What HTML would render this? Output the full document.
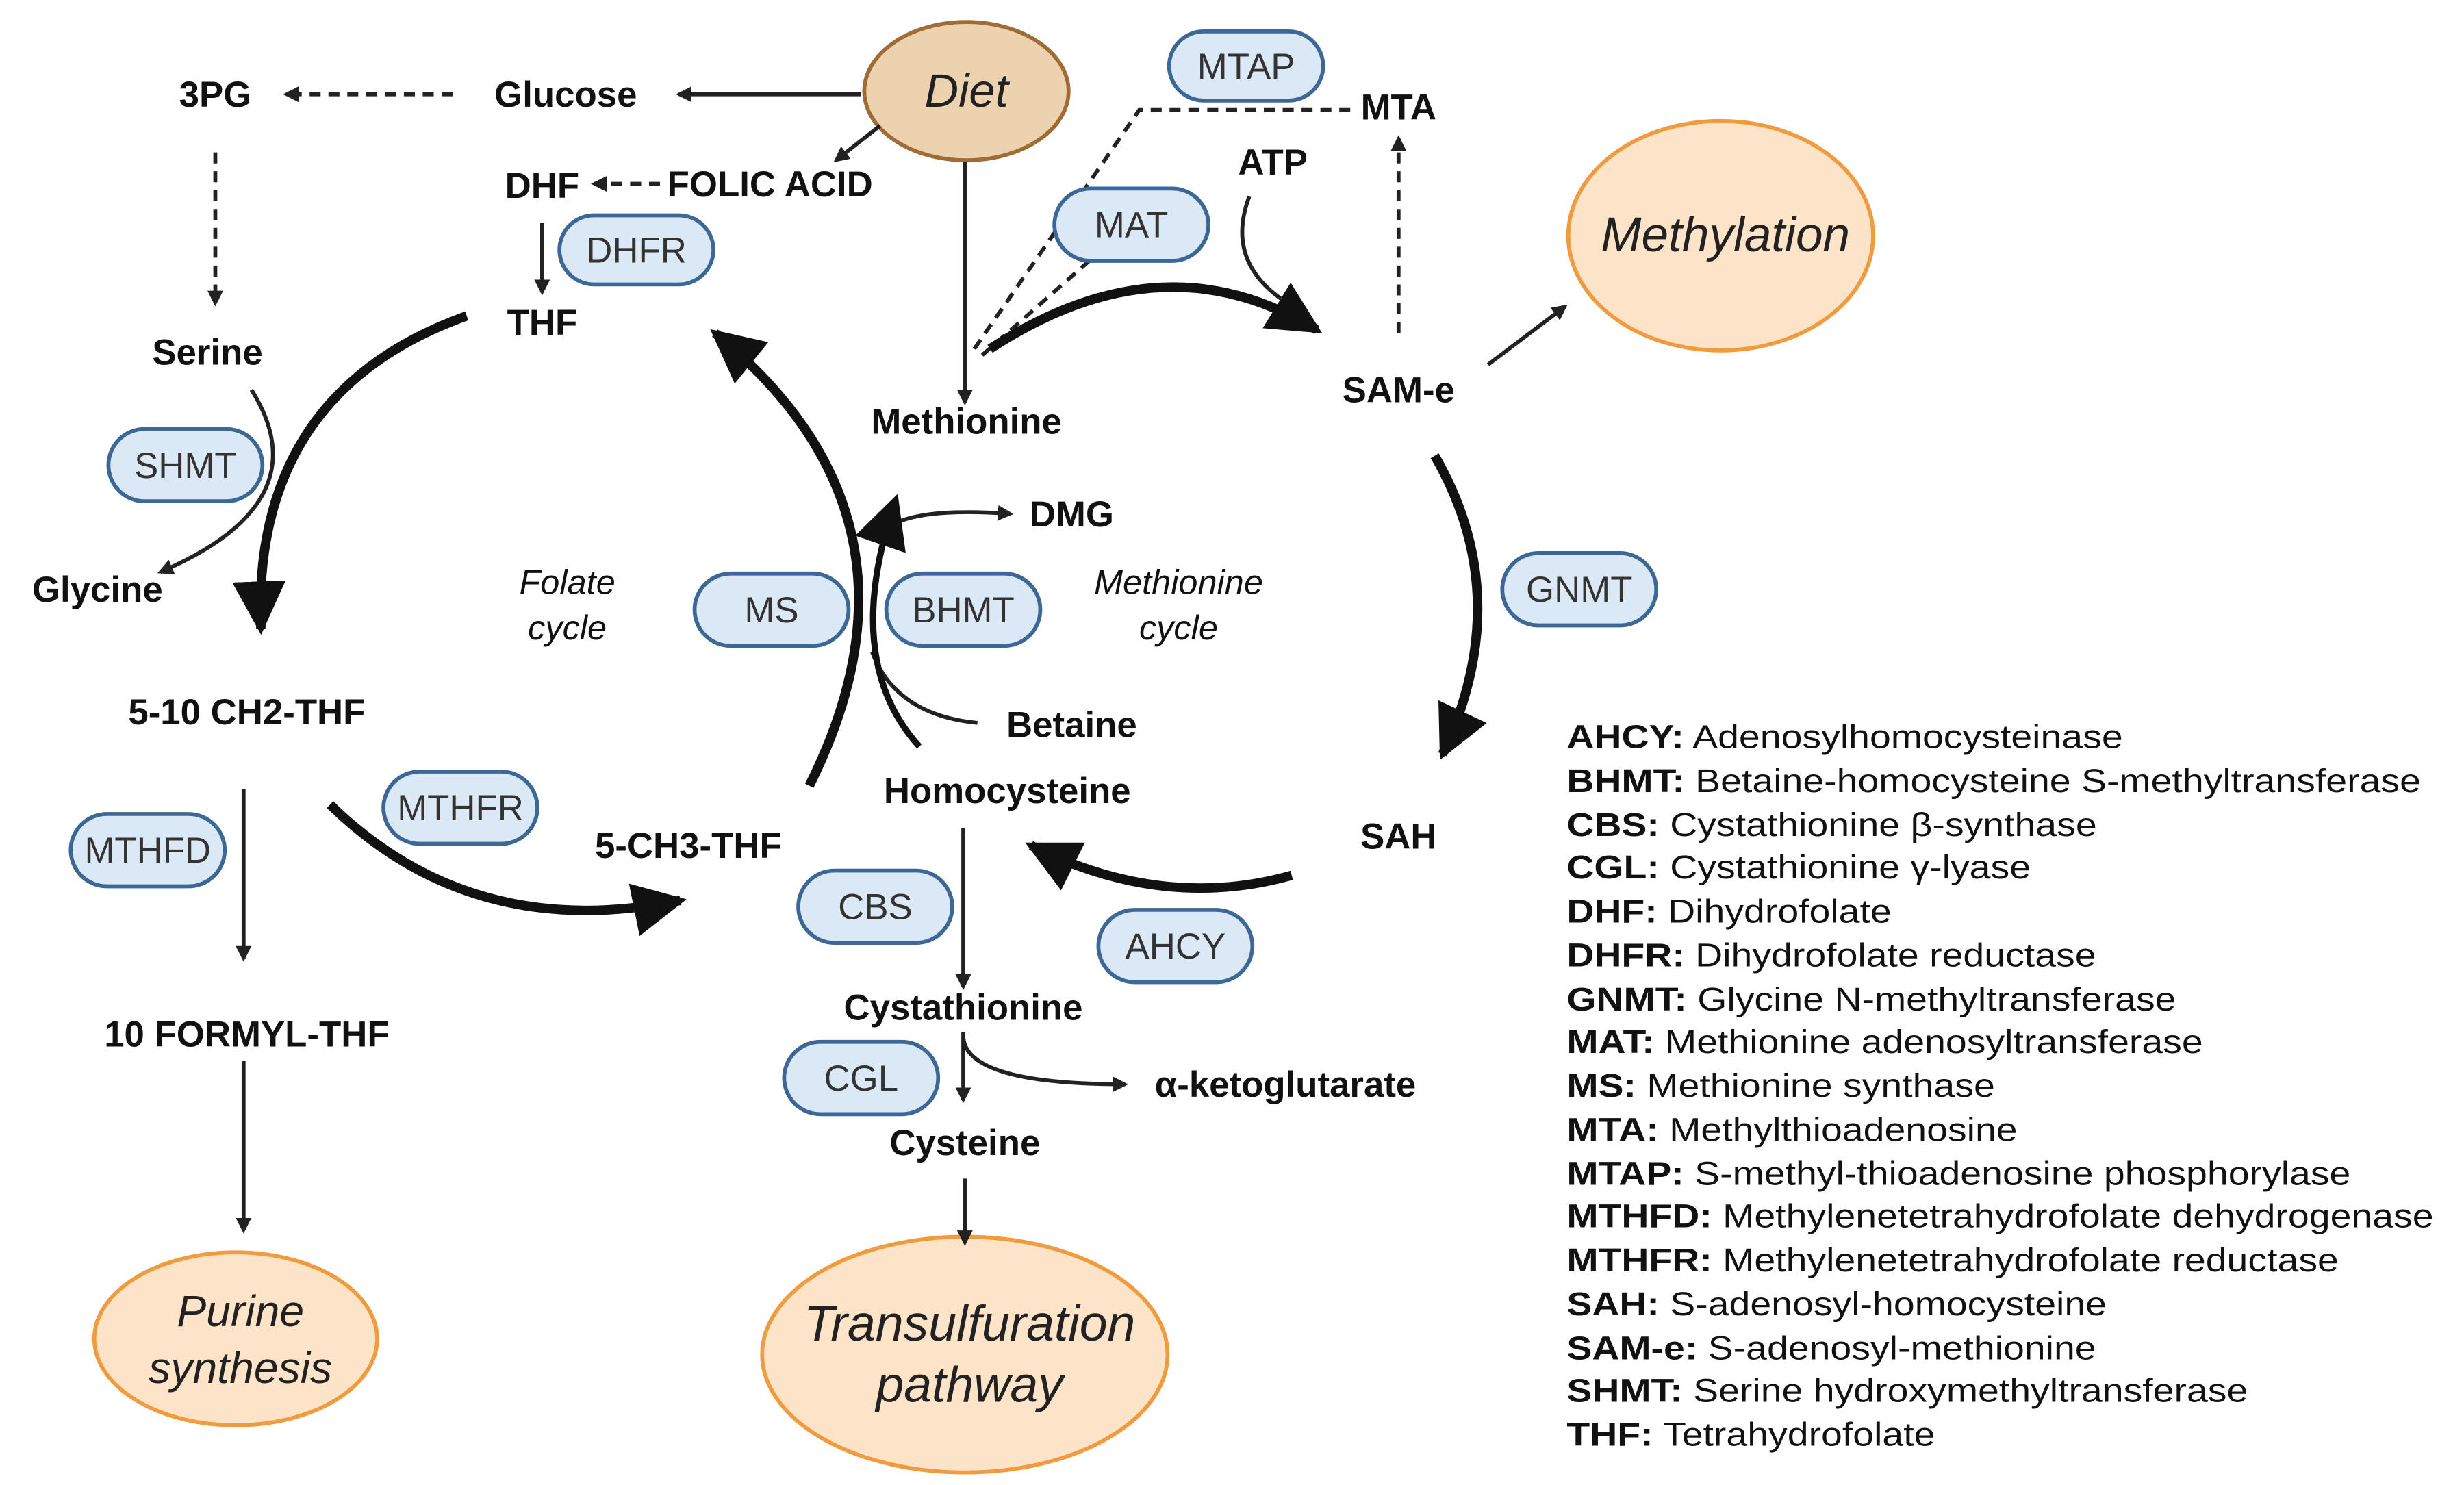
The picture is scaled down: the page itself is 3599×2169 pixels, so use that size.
<!DOCTYPE html>
<html><head><meta charset="utf-8"><style>
html,body{margin:0;padding:0;background:#fff;}
svg{display:block;}
text{font-family:"Liberation Sans",sans-serif;fill:#111;}
.b{font-weight:bold;font-size:23px;}
.p{font-size:23px;fill:#333;}
.i{font-style:italic;font-size:22px;fill:#333;}
.pill{fill:#dbe8f6;stroke:#3d6896;stroke-width:2.5;}
.ln{stroke:#222;stroke-width:2.5;fill:none;}
.dl{stroke:#222;stroke-width:2.5;fill:none;stroke-dasharray:7,5;}
.tk{stroke:#111;stroke-width:6;fill:none;}
.lg{font-size:21px;fill:#222;}
</style></head><body>
<svg width="3599" height="2169" viewBox="0 0 1568 945" xmlns="http://www.w3.org/2000/svg">
<defs>
<marker id="a" markerWidth="10" markerHeight="10" refX="8" refY="5" orient="auto" markerUnits="userSpaceOnUse"><path d="M0,0 L10,5 L0,10 z" fill="#222"/></marker>
<marker id="A" markerWidth="40" markerHeight="34" refX="30" refY="17" orient="auto" markerUnits="userSpaceOnUse"><path d="M0,0 L34,17 L0,34 z" fill="#111"/></marker>
</defs>
<rect width="1568" height="945" fill="#fff"/>
<ellipse cx="615" cy="58" rx="65" ry="44" fill="#ecd2ae" stroke="#a06c35" stroke-width="2.5"/>
<text x="615" y="68" text-anchor="middle" class="i" style="font-size:30px;fill:#222">Diet</text>
<ellipse cx="1095" cy="150" rx="97" ry="73" fill="#fde4c9" stroke="#ef9b3e" stroke-width="2.5"/>
<text x="1098" y="160" text-anchor="middle" class="i" style="font-size:31px;fill:#222">Methylation</text>
<ellipse cx="150" cy="852" rx="90" ry="55" fill="#fde4c9" stroke="#ef9b3e" stroke-width="2.5"/>
<text x="153" y="844" text-anchor="middle" class="i" style="font-size:28px;fill:#222">Purine</text>
<text x="153" y="880" text-anchor="middle" class="i" style="font-size:28px;fill:#222">synthesis</text>
<ellipse cx="614" cy="862" rx="129" ry="75" fill="#fde4c9" stroke="#ef9b3e" stroke-width="2.5"/>
<text x="617" y="853" text-anchor="middle" class="i" style="font-size:32px;fill:#222">Transulfuration</text>
<text x="617" y="892" text-anchor="middle" class="i" style="font-size:32px;fill:#222">pathway</text>
<path class="ln" d="M548,60 L432,60" marker-end="url(#a)"/>
<path class="dl" d="M288,60 L182,60" marker-end="url(#a)"/>
<path class="dl" d="M137,97 L137,193" marker-end="url(#a)"/>
<path class="ln" d="M560,80 L532,102" marker-end="url(#a)"/>
<path class="dl" d="M420,117 L378,117" marker-end="url(#a)"/>
<path class="ln" d="M345,142 L345,186" marker-end="url(#a)"/>
<path class="ln" d="M614,103 L614,256" marker-end="url(#a)"/>
<path class="dl" d="M620,222 L725,70 L860,70"/>
<path class="dl" d="M625,226 L700,160"/>
<path class="dl" d="M890,212 L890,88" marker-end="url(#a)"/>
<path class="ln" d="M795,125 Q780,165 815,190"/>
<path class="ln" d="M947,232 L996,195" marker-end="url(#a)"/>
<path class="ln" d="M160,248 Q205,320 102,364" marker-end="url(#a)"/>
<path class="ln" d="M155,502 L155,610" marker-end="url(#a)"/>
<path class="ln" d="M155,675 L155,783" marker-end="url(#a)"/>
<path class="ln" d="M613,527 L613,628" marker-end="url(#a)"/>
<path class="ln" d="M613,657 L613,700" marker-end="url(#a)"/>
<path class="ln" d="M613,660 Q615,690 716,690" marker-end="url(#a)"/>
<path class="ln" d="M614,750 L614,791" marker-end="url(#a)"/>
<path class="ln" d="M560,340 Q575,322 643,327" marker-end="url(#a)"/>
<path class="ln" d="M622,460 Q570,455 555,415"/>
<path class="tk" d="M630,222 Q740,150 838,210" marker-end="url(#A)"/>
<path class="tk" d="M913,290 Q965,380 918,480" marker-end="url(#A)"/>
<path class="tk" d="M822,557 Q740,580 656,538" marker-end="url(#A)"/>
<path class="tk" d="M515,500 Q600,330 455,212" marker-end="url(#A)"/>
<path class="tk" d="M297,201 Q160,250 166,400" marker-end="url(#A)"/>
<path class="tk" d="M210,512 Q300,600 433,573" marker-end="url(#A)"/>
<path class="tk" d="M585,475 Q535,420 570,318" marker-end="url(#A)" style="stroke-width:4"/>
<g>
<rect class="pill" x="744" y="20" width="98" height="44" rx="22"/><text x="793" y="50" text-anchor="middle" class="p">MTAP</text>
<rect class="pill" x="671" y="120" width="98" height="46" rx="23"/><text x="720" y="151" text-anchor="middle" class="p">MAT</text>
<rect class="pill" x="356" y="137" width="98" height="44" rx="22"/><text x="405" y="167" text-anchor="middle" class="p">DHFR</text>
<rect class="pill" x="69" y="273" width="98" height="46" rx="23"/><text x="118" y="304" text-anchor="middle" class="p">SHMT</text>
<rect class="pill" x="442" y="365" width="98" height="46" rx="23"/><text x="491" y="396" text-anchor="middle" class="p">MS</text>
<rect class="pill" x="564" y="365" width="98" height="46" rx="23"/><text x="613" y="396" text-anchor="middle" class="p">BHMT</text>
<rect class="pill" x="956" y="352" width="98" height="46" rx="23"/><text x="1005" y="383" text-anchor="middle" class="p">GNMT</text>
<rect class="pill" x="244" y="491" width="98" height="46" rx="23"/><text x="293" y="522" text-anchor="middle" class="p">MTHFR</text>
<rect class="pill" x="45" y="518" width="98" height="46" rx="23"/><text x="94" y="549" text-anchor="middle" class="p">MTHFD</text>
<rect class="pill" x="508" y="554" width="98" height="46" rx="23"/><text x="557" y="585" text-anchor="middle" class="p">CBS</text>
<rect class="pill" x="699" y="579" width="98" height="46" rx="23"/><text x="748" y="610" text-anchor="middle" class="p">AHCY</text>
<rect class="pill" x="499" y="663" width="98" height="46" rx="23"/><text x="548" y="694" text-anchor="middle" class="p">CGL</text>
</g>
<g class="b" text-anchor="middle">
<text x="137" y="68">3PG</text>
<text x="360" y="68">Glucose</text>
<text x="345" y="126">DHF</text>
<text x="490" y="125">FOLIC ACID</text>
<text x="890" y="76">MTA</text>
<text x="810" y="111">ATP</text>
<text x="345" y="213">THF</text>
<text x="132" y="232">Serine</text>
<text x="615" y="276">Methionine</text>
<text x="890" y="256">SAM-e</text>
<text x="682" y="335">DMG</text>
<text x="62" y="383">Glycine</text>
<text x="157" y="461">5-10 CH2-THF</text>
<text x="682" y="469">Betaine</text>
<text x="641" y="511">Homocysteine</text>
<text x="890" y="540">SAH</text>
<text x="438" y="546">5-CH3-THF</text>
<text x="613" y="649">Cystathionine</text>
<text x="818" y="698">α-ketoglutarate</text>
<text x="614" y="735">Cysteine</text>
<text x="157" y="666">10 FORMYL-THF</text>
</g>
<g class="i" text-anchor="middle">
<text x="361" y="378">Folate</text><text x="361" y="407">cycle</text>
<text x="750" y="378">Methionine</text><text x="750" y="407">cycle</text>
</g>
<g class="lg" transform="translate(997,0) scale(1.15,1) translate(-997,0)">
<text x="997" y="476"><tspan font-weight="bold">AHCY:</tspan> Adenosylhomocysteinase</text>
<text x="997" y="504"><tspan font-weight="bold">BHMT:</tspan> Betaine-homocysteine S-methyltransferase</text>
<text x="997" y="532"><tspan font-weight="bold">CBS:</tspan> Cystathionine β-synthase</text>
<text x="997" y="559"><tspan font-weight="bold">CGL:</tspan> Cystathionine γ-lyase</text>
<text x="997" y="587"><tspan font-weight="bold">DHF:</tspan> Dihydrofolate</text>
<text x="997" y="615"><tspan font-weight="bold">DHFR:</tspan> Dihydrofolate reductase</text>
<text x="997" y="643"><tspan font-weight="bold">GNMT:</tspan> Glycine N-methyltransferase</text>
<text x="997" y="670"><tspan font-weight="bold">MAT:</tspan> Methionine adenosyltransferase</text>
<text x="997" y="698"><tspan font-weight="bold">MS:</tspan> Methionine synthase</text>
<text x="997" y="726"><tspan font-weight="bold">MTA:</tspan> Methylthioadenosine</text>
<text x="997" y="754"><tspan font-weight="bold">MTAP:</tspan> S-methyl-thioadenosine phosphorylase</text>
<text x="997" y="781"><tspan font-weight="bold">MTHFD:</tspan> Methylenetetrahydrofolate dehydrogenase</text>
<text x="997" y="809"><tspan font-weight="bold">MTHFR:</tspan> Methylenetetrahydrofolate reductase</text>
<text x="997" y="837"><tspan font-weight="bold">SAH:</tspan> S-adenosyl-homocysteine</text>
<text x="997" y="865"><tspan font-weight="bold">SAM-e:</tspan> S-adenosyl-methionine</text>
<text x="997" y="892"><tspan font-weight="bold">SHMT:</tspan> Serine hydroxymethyltransferase</text>
<text x="997" y="920"><tspan font-weight="bold">THF:</tspan> Tetrahydrofolate</text>
</g>
</svg>
</body></html>
